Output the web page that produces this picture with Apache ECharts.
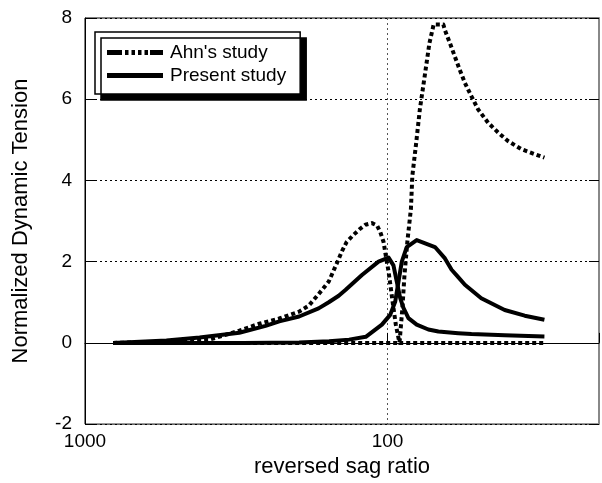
<!DOCTYPE html>
<html>
<head>
<meta charset="utf-8">
<script src="https://cdn.jsdelivr.net/npm/echarts@6/dist/echarts.min.js"></script>
<style>
  html, body { margin: 0; padding: 0; background: #fff; }
  #chart { width: 602px; height: 483px; }
</style>
</head>
<body>
<div id="chart"></div>
<script>
// ---- data ----
const xTickLabels = [1000, 100];
const yTickLabels = [-2, 0, 2, 4, 6, 8];

// Ahn's study – first mode
const ahn1X = [807, 600, 480, 388, 309, 266, 228, 196, 182, 169, 156.4, 146.7, 141.4, 136.6, 130, 123.2, 118.4, 112.6, 108.3, 105.7, 103.1, 101.4, 99.2, 97.2, 95.6, 93.9, 92, 91.3, 80, 60, 45, 30];
const ahn1Y = [0, 0.02, 0.04, 0.08, 0.3, 0.47, 0.6, 0.77, 0.92, 1.2, 1.51, 1.98, 2.26, 2.48, 2.65, 2.81, 2.91, 2.95, 2.89, 2.73, 2.49, 2.16, 1.75, 1.26, 0.86, 0.45, 0.12, 0, 0, 0, 0, 0];

// Ahn's study – second mode
const ahn2X = [807, 300, 150, 100, 91.3, 90.8, 89.3, 87.9, 86.0, 83.7, 82.8, 80.4, 78.2, 75.4, 72.7, 70.4, 65.4, 64.6, 62.2, 59.9, 57.7, 55.5, 52.8, 50.2, 46.5, 43.1, 40, 36.1, 32.7, 30.3];
const ahn2Y = [0, 0, 0, 0, 0, 0.04, 0.86, 1.67, 2.49, 3.3, 4.11, 4.93, 5.75, 6.56, 7.38, 7.84, 7.84, 7.7, 7.38, 7.05, 6.72, 6.4, 6.07, 5.75, 5.42, 5.18, 4.97, 4.77, 4.65, 4.56];

// Present study – first mode
const pres1X = [807, 538, 418, 309, 253, 228, 196, 169, 156.4, 145, 137.8, 121.5, 107.1, 99.2, 95.6, 93.2, 90.8, 88.6, 85.3, 80.1, 73.3, 67.9, 58.4, 52.8, 41, 30.3];
const pres1Y = [0, 0.06, 0.13, 0.25, 0.42, 0.53, 0.65, 0.85, 1.0, 1.16, 1.3, 1.67, 2.0, 2.1, 1.91, 1.51, 1.1, 0.86, 0.61, 0.45, 0.33, 0.28, 0.24, 0.22, 0.19, 0.16];

// Present study – second mode
const pres2X = [807, 300, 196, 156, 134, 118, 104.4, 98, 94.3, 92, 89.7, 86.4, 80.1, 69.7, 64.6, 61.4, 58.4, 55.5, 49, 41, 35.2, 30.3];
const pres2Y = [0, 0, 0.01, 0.04, 0.08, 0.15, 0.45, 0.69, 1.02, 1.51, 2.0, 2.36, 2.53, 2.36, 2.08, 1.8, 1.62, 1.43, 1.1, 0.81, 0.67, 0.57];

const seriesNames = ["Ahn's study", "Present study"];

// ---- chart ----
const zip = (xs, ys) => xs.map((x, i) => [x, ys[i]]);
const FONT = "'Liberation Sans', Arial, Helvetica, sans-serif";
const ahnDash = [4, 3];

const chart = echarts.init(document.getElementById('chart'), null, { renderer: 'canvas' });

function mkSeries(name, xs, ys, dashed) {
  return {
    name: name,
    type: 'line',
    data: zip(xs, ys),
    symbol: 'none',
    smooth: false,
    color: '#000',
    lineStyle: { color: '#000', width: 4, type: dashed ? ahnDash : 'solid', join: 'round' },
    z: dashed ? 3 : 4
  };
}

const ahnIcon = 'path://M0,0H15V5H0Z M18,0H21.5V5H18Z M24.5,0H28V5H24.5Z M31,0H34.5V5H31Z M37.5,0H41V5H37.5Z M43,0H56V5H43Z';
const presIcon = 'path://M0,0H56V5H0Z';

chart.setOption({
  animation: false,
  backgroundColor: '#fff',
  textStyle: { fontFamily: FONT, color: '#000' },
  grid: {
    left: 85, right: 2, top: 18, bottom: 56,
    show: true, borderColor: '#000', borderWidth: 1, backgroundColor: 'transparent'
  },
  legend: {
    orient: 'vertical',
    left: 95, top: 32,
    padding: [11, 14, 9, 12],
    itemWidth: 56, itemHeight: 5, itemGap: 4,
    backgroundColor: '#fff',
    borderColor: '#000', borderWidth: 1.5, borderRadius: 0,
    shadowColor: '#000', shadowBlur: 0, shadowOffsetX: 6, shadowOffsetY: 6,
    textStyle: { fontFamily: FONT, fontSize: 19, color: '#000', padding: [0, 0, 0, 2] },
    data: [
      { name: seriesNames[0], icon: ahnIcon },
      { name: seriesNames[1], icon: presIcon }
    ]
  },
  xAxis: {
    type: 'log', logBase: 10, inverse: true, min: 20, max: 1000,
    name: 'reversed sag ratio', nameLocation: 'middle', nameGap: 30,
    nameTextStyle: { fontFamily: FONT, fontSize: 22, color: '#000' },
    axisLine: { show: true, lineStyle: { color: '#000', width: 1 } },
    axisTick: { show: true, inside: true, length: 10, lineStyle: { color: '#000', width: 1 } },
    minorTick: { show: false },
    axisLabel: {
      fontFamily: FONT, fontSize: 19, color: '#000', margin: 8,
      showMinLabel: true, showMaxLabel: true,
      formatter: function (v) {
        const r = Math.round(v);
        return xTickLabels.indexOf(r) >= 0 ? String(r) : '';
      }
    },
    splitLine: { show: true, lineStyle: { color: '#555', width: 1, type: [2, 3] } }
  },
  yAxis: [
    {
      type: 'value', min: yTickLabels[0], max: yTickLabels[yTickLabels.length - 1], interval: 2,
      name: 'Normalized Dynamic Tension', nameLocation: 'middle', nameGap: 53,
      nameTextStyle: { fontFamily: FONT, fontSize: 22, color: '#000' },
      axisLine: { show: true, lineStyle: { color: '#000', width: 1 } },
      axisTick: { show: true, inside: true, length: 11, lineStyle: { color: '#000', width: 1 } },
      axisLabel: { fontFamily: FONT, fontSize: 19, color: '#000', margin: 13 },
      splitLine: { show: true, lineStyle: { color: '#000', width: 1, type: [2, 3] } }
    },
    {
      type: 'value', position: 'right', min: yTickLabels[0], max: yTickLabels[yTickLabels.length - 1], interval: 2,
      axisLine: { show: true, lineStyle: { color: '#888', width: 2 } },
      axisTick: { show: true, inside: true, length: 10, lineStyle: { color: '#000', width: 1 } },
      axisLabel: { show: false },
      splitLine: { show: false }
    }
  ],
  series: [
    mkSeries(seriesNames[0], ahn1X, ahn1Y, true),
    mkSeries(seriesNames[0], ahn2X, ahn2Y, true),
    mkSeries(seriesNames[1], pres1X, pres1Y, false),
    mkSeries(seriesNames[1], pres2X, pres2Y, false)
  ]
});
</script>
</body>
</html>
